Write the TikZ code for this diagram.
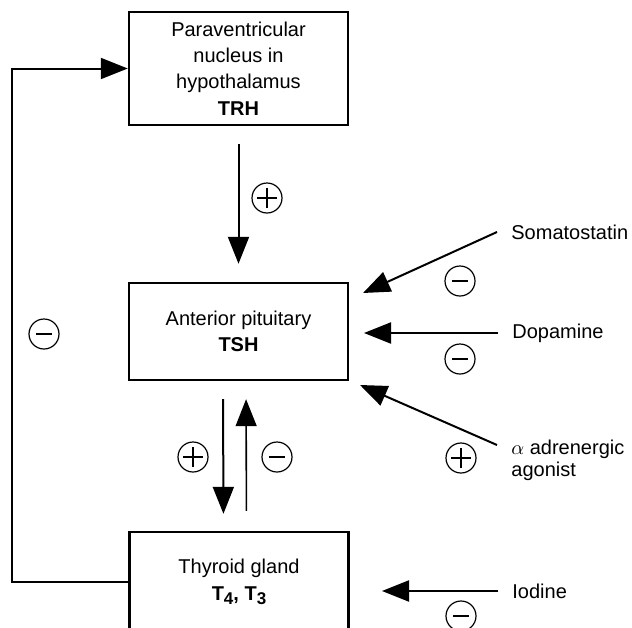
\documentclass[tikz,border=0pt]{standalone}
\usepackage{fontspec}
\setmainfont{Liberation Sans}
\usetikzlibrary{arrows.meta}

\newcommand\lowsub[1]{\raisebox{-0.45ex}{\fontsize{8.5}{8.5}\selectfont #1}}

\tikzset{
  organ/.style={draw,line width=1.2pt,minimum width=109.5pt,align=center,font=\fontsize{10}{13.25}\selectfont},
  hormone/.style={line width=1pt,-{Triangle[length=13.5pt,width=10.5pt]}},
  agent/.style={anchor=west,align=left,inner xsep=7pt,inner ysep=0pt,font=\fontsize{10}{11}\selectfont},
  sign/.style={circle,draw,line width=0.6pt,minimum size=15pt,inner sep=0pt},
  possign/.style={sign,path picture={
    \draw[line width=0.6pt] ([xshift=2.5pt]path picture bounding box.west) -- ([xshift=-2.5pt]path picture bounding box.east)
      ([yshift=-2.5pt]path picture bounding box.north) -- ([yshift=2.5pt]path picture bounding box.south);}},
  negsign/.style={sign,path picture={
    \draw[line width=0.6pt] ([xshift=3.5pt]path picture bounding box.west) -- ([xshift=-3.5pt]path picture bounding box.east);}}
}

\begin{document}
\begin{tikzpicture}[x=0.5pt,y=-0.5pt]
\clip (0,0) rectangle (632,627);

% the three glands
\node[organ,minimum height=56.5pt] (trh) at (238.5,68.5) {Paraventricular\\nucleus in\\hypothalamus\\\textbf{TRH}};
\node[organ,minimum height=48.5pt] (tsh) at (238.5,331.5) {Anterior pituitary\\\textbf{TSH}};
\node[organ,minimum height=50pt] (thy) at (239,582) {Thyroid gland\\\textbf{T\lowsub{4}, T\lowsub{3}}};

% outside influences on the pituitary and thyroid
\node[agent] (somato) at (497,232) {Somatostatin};
\node[agent] (dopa) at (498,333) {Dopamine};
\node[agent] (alpha) at (497,460) {$\alpha$ adrenergic\\agonist};
\node[agent] (iodine) at (498,591) {Iodine};

\coordinate (somtip) at (363,293);
\coordinate (doptip) at (364,333);
\coordinate (alptip) at (360,385);
\coordinate (iodtip) at (382,591);

% axis
\draw[hormone,shorten <=9pt,shorten >=9pt] (trh.south) -- (tsh.north);
\draw[hormone,shorten <=9pt,shorten >=8.5pt] ([xshift=-7.75pt]tsh.south) -- ([xshift=-7.75pt]thy.north);
\draw[hormone,line width=0.8pt,shorten <=10pt,shorten >=9pt] ([xshift=3.75pt]thy.north) -- ([xshift=3.75pt]tsh.south);
\draw[hormone] (thy.west) -- ++(-116,0) |- (trh.west);

\draw[hormone] (somato.west) -- (somtip);
\draw[hormone] (dopa.west) -- (doptip);
\draw[hormone] ([yshift=7.5pt]alpha.west) -- (alptip);
\draw[hormone] (iodine.west) -- (iodtip);

% signs
\node[possign] (s1) at (267,198) {};
\node[possign] (s2) at (193,457) {};
\node[negsign] (s3) at (277,457) {};
\node[negsign] (s4) at (44,334) {};
\node[negsign] (s5) at (460,281) {};
\node[negsign] (s6) at (460,359) {};
\node[possign] (s7) at (461,458) {};
\node[negsign] (s8) at (461,616) {};
\end{tikzpicture}
\end{document}
